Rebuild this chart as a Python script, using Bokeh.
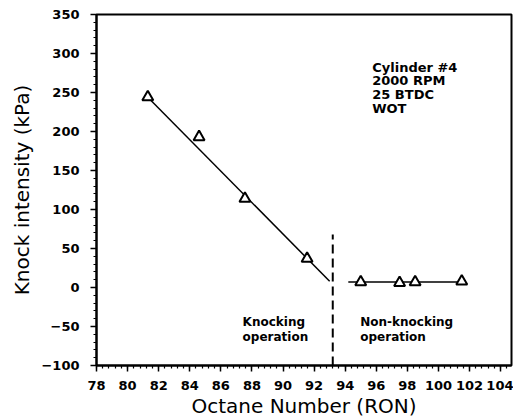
from bokeh.plotting import figure
from bokeh.models import Range1d, SingleIntervalTicker
from bokeh.core.properties import value
from bokeh.embed import file_html
from bokeh.resources import INLINE

# Knocking operation measurements
knock_ron = [81.3, 84.6, 87.55, 91.55]
knock_kpa = [244, 193, 114, 37]
# Non-knocking operation measurements
nonknock_ron = [95.0, 97.5, 98.5, 101.5]
nonknock_kpa = [7, 6, 7, 8]
# fitted trend line (knocking) and flat line (non-knocking)
fit_ron = [81.3, 93.0]
fit_kpa = [244, 8]
flat_ron = [94.2, 101.5]
flat_kpa = [7, 7]
# knock limit
limit_ron = [93.2, 93.2]
limit_kpa = [-100, 68]

info_lines = ["Cylinder #4", "2000 RPM", "25 BTDC", "WOT"]
info_x = [95.74] * 4
info_y = [281.5, 264.8, 246.8, 230.1]

region_labels = ["Knocking", "operation", "Non-knocking", "operation"]
region_x = [87.4, 87.4, 94.97, 94.97]
region_y = [-43.7, -64.0, -43.7, -64.0]

p = figure(width=513, height=420, output_backend="svg", toolbar_location=None,
           x_range=Range1d(78, 104.7), y_range=Range1d(-100, 350),
           min_border_left=96, min_border_right=2, min_border_top=14, min_border_bottom=55)
p.background_fill_color = "white"
p.border_fill_color = "white"
p.xgrid.visible = False
p.ygrid.visible = False
p.outline_line_color = "black"
p.outline_line_width = 2

p.xaxis.ticker = SingleIntervalTicker(interval=2, num_minor_ticks=5)
p.yaxis.ticker = SingleIntervalTicker(interval=50, num_minor_ticks=5)

for ax in (p.xaxis[0], p.yaxis[0]):
    ax.axis_line_width = 2
    ax.major_tick_line_width = 1.5
    ax.minor_tick_line_width = 1.2
    ax.major_tick_in = 0
    ax.major_tick_out = 6
    ax.minor_tick_in = 0
    ax.minor_tick_out = 3
    ax.major_label_text_font = "DejaVu Sans"
    ax.major_label_text_font_style = "bold"
    ax.major_label_text_font_size = "13px"
    ax.major_label_text_color = "black"
    ax.axis_label_text_font = "DejaVu Sans"
    ax.axis_label_text_font_style = "normal"
    ax.axis_label_text_font_size = "20px"
    ax.axis_label_text_color = "black"

p.xaxis.axis_label = "Octane Number (RON)"
p.yaxis.axis_label = "Knock intensity (kPa)"
p.xaxis.major_label_standoff = 9
p.xaxis.axis_label_standoff = 1
p.yaxis.major_label_standoff = 11
p.yaxis.axis_label_standoff = 4

p.line(fit_ron, fit_kpa, line_color="black", line_width=1.5)
p.line(flat_ron, flat_kpa, line_color="black", line_width=1.5)
p.line(limit_ron, limit_kpa, line_color="black", line_width=2, line_dash="9 5")

p.scatter(knock_ron, knock_kpa, marker="triangle", size=11,
          fill_color="white", line_color="black", line_width=2)
p.scatter(nonknock_ron, nonknock_kpa, marker="triangle", size=11,
          fill_color="white", line_color="black", line_width=2)

p.text(info_x, info_y, text=info_lines, text_font=value("DejaVu Sans"),
       text_font_size="13px", text_font_style="bold", text_baseline="middle",
       text_align="left", text_color="black")
p.text(region_x, region_y, text=region_labels, text_font=value("DejaVu Sans"),
       text_font_size="12px", text_font_style="bold", text_baseline="middle",
       text_align="left", text_color="black")

open("out.html", "w").write(file_html(p, INLINE))
